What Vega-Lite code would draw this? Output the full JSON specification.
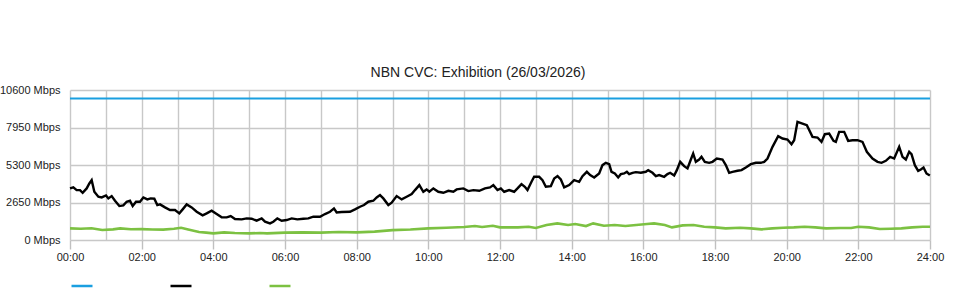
{
  "$schema": "https://vega.github.io/schema/vega-lite/v6.json",
  "width": 860,
  "height": 150,
  "autosize": "none",
  "padding": {"left": 70, "top": 90, "right": 30, "bottom": 60},
  "background": "white",
  "config": {
    "view": {"stroke": null},
    "font": "Liberation Sans"
  },
  "title": {
    "text": "NBN CVC: Exhibition (26/03/2026)",
    "font": "Liberation Sans",
    "fontSize": 14,
    "fontWeight": "normal",
    "color": "#222222",
    "anchor": "middle",
    "dx": -22,
    "offset": 4
  },
  "datasets": {
    "capacity": [
      {"series": "Capacity", "hour": 0, "mbps": 10000},
      {"series": "Capacity", "hour": 24, "mbps": 10000}
    ],
    "download": [
      {"hour": 0.000, "mbps": 3644}, {"hour": 0.093, "mbps": 3715}, {"hour": 0.186, "mbps": 3527}, {"hour": 0.279, "mbps": 3527},
      {"hour": 0.353, "mbps": 3338}, {"hour": 0.465, "mbps": 3644}, {"hour": 0.540, "mbps": 3997}, {"hour": 0.605, "mbps": 4232},
      {"hour": 0.679, "mbps": 3409}, {"hour": 0.791, "mbps": 3056}, {"hour": 0.884, "mbps": 3009}, {"hour": 1.005, "mbps": 3150},
      {"hour": 1.070, "mbps": 2939}, {"hour": 1.163, "mbps": 3103}, {"hour": 1.256, "mbps": 2774}, {"hour": 1.377, "mbps": 2398},
      {"hour": 1.488, "mbps": 2445}, {"hour": 1.581, "mbps": 2704}, {"hour": 1.674, "mbps": 2774}, {"hour": 1.749, "mbps": 2398},
      {"hour": 1.842, "mbps": 2704}, {"hour": 1.953, "mbps": 2704}, {"hour": 2.047, "mbps": 3009}, {"hour": 2.158, "mbps": 2868},
      {"hour": 2.251, "mbps": 2939}, {"hour": 2.353, "mbps": 2915}, {"hour": 2.437, "mbps": 2469}, {"hour": 2.512, "mbps": 2516},
      {"hour": 2.651, "mbps": 2304}, {"hour": 2.791, "mbps": 2116}, {"hour": 2.930, "mbps": 2116}, {"hour": 3.051, "mbps": 1881},
      {"hour": 3.144, "mbps": 2163}, {"hour": 3.256, "mbps": 2516}, {"hour": 3.395, "mbps": 2304}, {"hour": 3.535, "mbps": 1998},
      {"hour": 3.702, "mbps": 1740}, {"hour": 3.814, "mbps": 1881}, {"hour": 3.953, "mbps": 2069}, {"hour": 4.093, "mbps": 1834},
      {"hour": 4.233, "mbps": 1599}, {"hour": 4.372, "mbps": 1599}, {"hour": 4.484, "mbps": 1693}, {"hour": 4.605, "mbps": 1481},
      {"hour": 4.791, "mbps": 1458}, {"hour": 4.930, "mbps": 1528}, {"hour": 5.070, "mbps": 1505}, {"hour": 5.209, "mbps": 1364},
      {"hour": 5.349, "mbps": 1528}, {"hour": 5.442, "mbps": 1293}, {"hour": 5.581, "mbps": 1176}, {"hour": 5.674, "mbps": 1293},
      {"hour": 5.786, "mbps": 1528}, {"hour": 5.907, "mbps": 1364}, {"hour": 6.047, "mbps": 1411}, {"hour": 6.186, "mbps": 1528},
      {"hour": 6.344, "mbps": 1458}, {"hour": 6.512, "mbps": 1505}, {"hour": 6.651, "mbps": 1528}, {"hour": 6.791, "mbps": 1646},
      {"hour": 6.977, "mbps": 1646}, {"hour": 7.116, "mbps": 1834}, {"hour": 7.256, "mbps": 1998}, {"hour": 7.367, "mbps": 2233},
      {"hour": 7.442, "mbps": 1951}, {"hour": 7.581, "mbps": 1975}, {"hour": 7.814, "mbps": 1998}, {"hour": 7.953, "mbps": 2163},
      {"hour": 8.093, "mbps": 2351}, {"hour": 8.205, "mbps": 2469}, {"hour": 8.326, "mbps": 2704}, {"hour": 8.465, "mbps": 2774},
      {"hour": 8.558, "mbps": 3009}, {"hour": 8.651, "mbps": 3174}, {"hour": 8.744, "mbps": 2939}, {"hour": 8.884, "mbps": 2469},
      {"hour": 8.977, "mbps": 2633}, {"hour": 9.116, "mbps": 3103}, {"hour": 9.256, "mbps": 2868}, {"hour": 9.395, "mbps": 3056},
      {"hour": 9.535, "mbps": 3244}, {"hour": 9.628, "mbps": 3527}, {"hour": 9.749, "mbps": 3879}, {"hour": 9.860, "mbps": 3409},
      {"hour": 9.953, "mbps": 3574}, {"hour": 10.028, "mbps": 3409}, {"hour": 10.140, "mbps": 3644}, {"hour": 10.279, "mbps": 3409},
      {"hour": 10.419, "mbps": 3338}, {"hour": 10.558, "mbps": 3479}, {"hour": 10.698, "mbps": 3409}, {"hour": 10.791, "mbps": 3574},
      {"hour": 10.977, "mbps": 3644}, {"hour": 11.116, "mbps": 3456}, {"hour": 11.256, "mbps": 3527}, {"hour": 11.423, "mbps": 3479},
      {"hour": 11.581, "mbps": 3644}, {"hour": 11.721, "mbps": 3715}, {"hour": 11.814, "mbps": 3879}, {"hour": 11.930, "mbps": 3527},
      {"hour": 12.023, "mbps": 3644}, {"hour": 12.116, "mbps": 3409}, {"hour": 12.256, "mbps": 3527}, {"hour": 12.395, "mbps": 3409},
      {"hour": 12.488, "mbps": 3644}, {"hour": 12.600, "mbps": 3950}, {"hour": 12.693, "mbps": 3762}, {"hour": 12.767, "mbps": 3527},
      {"hour": 12.879, "mbps": 4114}, {"hour": 12.953, "mbps": 4467}, {"hour": 13.093, "mbps": 4467}, {"hour": 13.186, "mbps": 4232},
      {"hour": 13.279, "mbps": 3762}, {"hour": 13.419, "mbps": 3809}, {"hour": 13.512, "mbps": 4349}, {"hour": 13.605, "mbps": 4514},
      {"hour": 13.698, "mbps": 4279}, {"hour": 13.791, "mbps": 3715}, {"hour": 13.930, "mbps": 3879}, {"hour": 14.070, "mbps": 4232},
      {"hour": 14.209, "mbps": 4114}, {"hour": 14.302, "mbps": 4514}, {"hour": 14.423, "mbps": 4820}, {"hour": 14.516, "mbps": 4584},
      {"hour": 14.628, "mbps": 4420}, {"hour": 14.767, "mbps": 4702}, {"hour": 14.860, "mbps": 5290}, {"hour": 14.953, "mbps": 5454},
      {"hour": 15.047, "mbps": 5360}, {"hour": 15.112, "mbps": 4820}, {"hour": 15.205, "mbps": 4702}, {"hour": 15.298, "mbps": 4420},
      {"hour": 15.372, "mbps": 4655}, {"hour": 15.465, "mbps": 4702}, {"hour": 15.540, "mbps": 4820}, {"hour": 15.605, "mbps": 4655},
      {"hour": 15.698, "mbps": 4749}, {"hour": 15.791, "mbps": 4796}, {"hour": 15.930, "mbps": 4749}, {"hour": 16.070, "mbps": 4820},
      {"hour": 16.135, "mbps": 4937}, {"hour": 16.256, "mbps": 4749}, {"hour": 16.349, "mbps": 4514}, {"hour": 16.442, "mbps": 4584},
      {"hour": 16.581, "mbps": 4467}, {"hour": 16.674, "mbps": 4655}, {"hour": 16.749, "mbps": 4749}, {"hour": 16.860, "mbps": 4561},
      {"hour": 16.935, "mbps": 4937}, {"hour": 17.028, "mbps": 5525}, {"hour": 17.140, "mbps": 5219}, {"hour": 17.233, "mbps": 5055},
      {"hour": 17.326, "mbps": 5689}, {"hour": 17.391, "mbps": 6113}, {"hour": 17.465, "mbps": 5525}, {"hour": 17.558, "mbps": 5689},
      {"hour": 17.623, "mbps": 5878}, {"hour": 17.716, "mbps": 5525}, {"hour": 17.837, "mbps": 5454}, {"hour": 17.930, "mbps": 5525},
      {"hour": 18.051, "mbps": 5760}, {"hour": 18.209, "mbps": 5689}, {"hour": 18.302, "mbps": 5290}, {"hour": 18.395, "mbps": 4749},
      {"hour": 18.488, "mbps": 4820}, {"hour": 18.628, "mbps": 4890}, {"hour": 18.740, "mbps": 4937}, {"hour": 18.860, "mbps": 5125},
      {"hour": 19.000, "mbps": 5360}, {"hour": 19.140, "mbps": 5454}, {"hour": 19.279, "mbps": 5454}, {"hour": 19.372, "mbps": 5525},
      {"hour": 19.465, "mbps": 5760}, {"hour": 19.605, "mbps": 6583}, {"hour": 19.763, "mbps": 7335}, {"hour": 19.884, "mbps": 7171},
      {"hour": 20.023, "mbps": 7100}, {"hour": 20.135, "mbps": 6771}, {"hour": 20.209, "mbps": 7053}, {"hour": 20.302, "mbps": 8346},
      {"hour": 20.442, "mbps": 8229}, {"hour": 20.563, "mbps": 8111}, {"hour": 20.721, "mbps": 7288}, {"hour": 20.860, "mbps": 7241},
      {"hour": 20.972, "mbps": 6935}, {"hour": 21.065, "mbps": 7476}, {"hour": 21.186, "mbps": 7523}, {"hour": 21.307, "mbps": 7006},
      {"hour": 21.372, "mbps": 6935}, {"hour": 21.465, "mbps": 7641}, {"hour": 21.605, "mbps": 7641}, {"hour": 21.716, "mbps": 7006},
      {"hour": 21.837, "mbps": 7053}, {"hour": 21.977, "mbps": 7053}, {"hour": 22.116, "mbps": 6935}, {"hour": 22.237, "mbps": 6230},
      {"hour": 22.395, "mbps": 5760}, {"hour": 22.535, "mbps": 5525}, {"hour": 22.647, "mbps": 5454}, {"hour": 22.767, "mbps": 5595},
      {"hour": 22.888, "mbps": 5878}, {"hour": 23.000, "mbps": 5760}, {"hour": 23.140, "mbps": 6583}, {"hour": 23.233, "mbps": 5878},
      {"hour": 23.326, "mbps": 5689}, {"hour": 23.419, "mbps": 6230}, {"hour": 23.484, "mbps": 6066}, {"hour": 23.577, "mbps": 5290},
      {"hour": 23.670, "mbps": 4890}, {"hour": 23.744, "mbps": 4984}, {"hour": 23.819, "mbps": 5125}, {"hour": 23.902, "mbps": 4702},
      {"hour": 23.995, "mbps": 4561}
    ],
    "upload": [
      {"hour": 0.0, "mbps": 823}, {"hour": 0.3, "mbps": 800}, {"hour": 0.6, "mbps": 830}, {"hour": 0.9, "mbps": 705},
      {"hour": 1.2, "mbps": 750}, {"hour": 1.4, "mbps": 820}, {"hour": 1.7, "mbps": 760}, {"hour": 2.0, "mbps": 770},
      {"hour": 2.3, "mbps": 740}, {"hour": 2.6, "mbps": 730}, {"hour": 2.9, "mbps": 790}, {"hour": 3.1, "mbps": 860},
      {"hour": 3.3, "mbps": 740}, {"hour": 3.6, "mbps": 560}, {"hour": 3.8, "mbps": 520}, {"hour": 4.0, "mbps": 470},
      {"hour": 4.3, "mbps": 540}, {"hour": 4.6, "mbps": 500}, {"hour": 5.0, "mbps": 470}, {"hour": 5.3, "mbps": 490},
      {"hour": 5.5, "mbps": 470}, {"hour": 6.0, "mbps": 520}, {"hour": 6.5, "mbps": 540}, {"hour": 7.0, "mbps": 520},
      {"hour": 7.5, "mbps": 560}, {"hour": 8.0, "mbps": 540}, {"hour": 8.5, "mbps": 590}, {"hour": 9.0, "mbps": 700},
      {"hour": 9.5, "mbps": 740}, {"hour": 10.0, "mbps": 820}, {"hour": 10.5, "mbps": 870}, {"hour": 11.0, "mbps": 920},
      {"hour": 11.3, "mbps": 990}, {"hour": 11.5, "mbps": 920}, {"hour": 11.8, "mbps": 1010}, {"hour": 12.0, "mbps": 893},
      {"hour": 12.5, "mbps": 893}, {"hour": 12.8, "mbps": 940}, {"hour": 13.0, "mbps": 850}, {"hour": 13.3, "mbps": 1058},
      {"hour": 13.6, "mbps": 1175}, {"hour": 13.9, "mbps": 1058}, {"hour": 14.1, "mbps": 1128}, {"hour": 14.4, "mbps": 987},
      {"hour": 14.6, "mbps": 1175}, {"hour": 14.9, "mbps": 1011}, {"hour": 15.2, "mbps": 1058}, {"hour": 15.5, "mbps": 987},
      {"hour": 15.8, "mbps": 1058}, {"hour": 16.1, "mbps": 1128}, {"hour": 16.3, "mbps": 1175}, {"hour": 16.6, "mbps": 1058},
      {"hour": 16.8, "mbps": 893}, {"hour": 17.1, "mbps": 1034}, {"hour": 17.4, "mbps": 1058}, {"hour": 17.7, "mbps": 940},
      {"hour": 18.0, "mbps": 893}, {"hour": 18.3, "mbps": 823}, {"hour": 18.7, "mbps": 870}, {"hour": 19.0, "mbps": 823},
      {"hour": 19.3, "mbps": 752}, {"hour": 19.6, "mbps": 823}, {"hour": 19.9, "mbps": 870}, {"hour": 20.2, "mbps": 893},
      {"hour": 20.5, "mbps": 940}, {"hour": 20.8, "mbps": 893}, {"hour": 21.1, "mbps": 823}, {"hour": 21.5, "mbps": 846},
      {"hour": 21.8, "mbps": 846}, {"hour": 22.0, "mbps": 940}, {"hour": 22.3, "mbps": 893}, {"hour": 22.6, "mbps": 776},
      {"hour": 22.9, "mbps": 800}, {"hour": 23.2, "mbps": 823}, {"hour": 23.5, "mbps": 893}, {"hour": 23.8, "mbps": 940},
      {"hour": 24.0, "mbps": 940}
    ]
  },
  "encoding": {
    "x": {
      "field": "hour",
      "type": "quantitative",
      "scale": {"domain": [0, 24], "nice": false, "zero": false},
      "axis": {
        "title": null,
        "values": [0,1,2,3,4,5,6,7,8,9,10,11,12,13,14,15,16,17,18,19,20,21,22,23,24],
        "labelExpr": "datum.value % 2 === 0 ? (datum.value < 10 ? '0' : '') + datum.value + ':00' : ''",
        "domain": false,
        "grid": true,
        "gridColor": "#c8c8c8",
        "gridWidth": 1.4,
        "ticks": true,
        "tickSize": 9,
        "tickColor": "#c0c0c0",
        "tickWidth": 1.4,
        "tickOpacity": {"condition": {"test": "datum.value % 2 === 0", "value": 1}, "value": 0},
        "labelFont": "Liberation Sans",
        "labelFontSize": 11,
        "labelColor": "#222222",
        "labelPadding": 2,
        "labelFlush": false,
        "labelOverlap": false
      }
    },
    "y": {
      "field": "mbps",
      "type": "quantitative",
      "scale": {"domain": [0, 10600], "nice": false},
      "axis": {
        "title": null,
        "values": [0, 2650, 5300, 7950, 10600],
        "labelExpr": "datum.value + ' Mbps'",
        "domain": false,
        "ticks": false,
        "grid": true,
        "gridColor": "#c8c8c8",
        "gridWidth": 1.4,
        "labelFont": "Liberation Sans",
        "labelFontSize": 11,
        "labelColor": "#222222",
        "labelPadding": 10
      }
    },
    "color": {
      "field": "series",
      "type": "nominal",
      "scale": {"domain": ["Capacity", "Download", "Upload"], "range": ["#1a9fe0", "#000000", "#7cc142"]},
      "legend": {
        "title": null,
        "orient": "none",
        "direction": "horizontal",
        "legendX": 0,
        "legendY": 184,
        "symbolType": "stroke",
        "symbolSize": 441,
        "symbolStrokeWidth": 2.5,
        "labelExpr": "''",
        "labelOffset": 0,
        "columnPadding": 67,
        "padding": 0
      }
    }
  },
  "layer": [
    {
      "data": {"name": "capacity"},
      "mark": {"type": "line", "strokeWidth": 2.2}
    },
    {
      "data": {"name": "download"},
      "transform": [{"calculate": "'Download'", "as": "series"}],
      "mark": {"type": "line", "strokeWidth": 2.4}
    },
    {
      "data": {"name": "upload"},
      "transform": [{"calculate": "'Upload'", "as": "series"}],
      "mark": {"type": "line", "strokeWidth": 2.6}
    }
  ]
}
